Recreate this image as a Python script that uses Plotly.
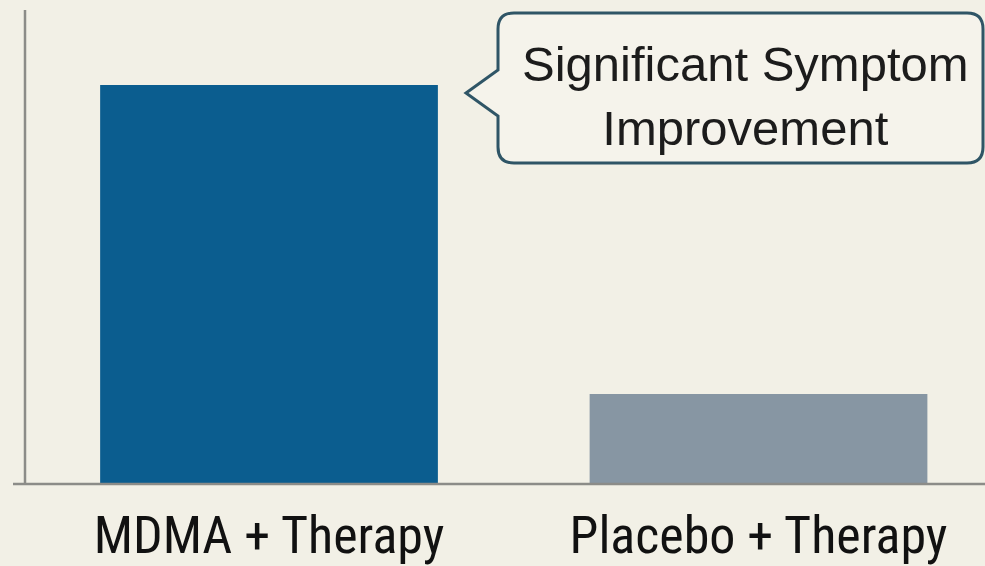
import plotly.graph_objects as go

categories = ["MDMA + Therapy", "Placebo + Therapy"]
values = [84.2, 19.0]
bar_colors = ["#0b5d8f", "#8796a3"]
callout_text = "Significant Symptom<br>Improvement"

W, H = 985, 566
ML, MR, MT, MB = 25, 0, 10, 82
PW, PH = W - ML - MR, H - MT - MB
BG = "#f2f0e6"


def px(x, y):
    """Pixel position -> paper coordinates."""
    return (x - ML) / PW, (H - MB - y) / PH


def callout_path(x0, y0, x1, y1, r, tip, base_top, base_bot):
    pts = []
    def P(cmd, x, y):
        u, v = px(x, y)
        pts.append(f"{cmd}{u:.5f},{v:.5f}")
    P("M", x0 + r, y0)
    P("L", x1 - r, y0)
    P("Q", x1, y0); P(" ", x1, y0 + r)
    P("L", x1, y1 - r)
    P("Q", x1, y1); P(" ", x1 - r, y1)
    P("L", x0 + r, y1)
    P("Q", x0, y1); P(" ", x0, y1 - r)
    P("L", x0, base_bot)
    P("L", tip[0], tip[1])
    P("L", x0, base_top)
    P("L", x0, y0 + r)
    P("Q", x0, y0); P(" ", x0 + r, y0)
    return " ".join(pts) + " Z"


fig = go.Figure(
    go.Bar(
        x=[0, 1],
        y=values,
        width=0.69,
        marker=dict(color=bar_colors, line=dict(width=0)),
        hoverinfo="skip",
    )
)

shapes = [
    # y axis line
    dict(type="line", xref="paper", yref="paper",
         x0=px(25, 0)[0], x1=px(25, 0)[0], y0=px(0, 10)[1], y1=px(0, 484)[1],
         line=dict(color="#8c8c88", width=2.5)),
    # x axis baseline
    dict(type="line", xref="paper", yref="paper",
         x0=px(13, 0)[0], x1=1, y0=px(0, 484)[1], y1=px(0, 484)[1],
         line=dict(color="#8c8c88", width=2.5)),
    # callout bubble
    dict(type="path", xref="paper", yref="paper",
         path=callout_path(498, 13, 983, 163, 16, (466, 93), 70, 116),
         fillcolor="#f5f3eb", line=dict(color="#2f5566", width=3)),
]

cx, cy = px(745, 96)
fig.add_annotation(
    x=cx, y=cy, xref="paper", yref="paper",
    text=callout_text, showarrow=False,
    font=dict(family="Liberation Sans, Arial, sans-serif", size=49, color="#1c1c1c"),
    xanchor="center", yanchor="middle", align="center",
)

fig.update_layout(
    width=W, height=H,
    margin=dict(l=ML, r=MR, t=MT, b=MB, autoexpand=False),
    paper_bgcolor=BG, plot_bgcolor=BG,
    shapes=shapes,
    showlegend=False,
    xaxis=dict(
        range=[-0.4985, 1.4627],
        tickvals=[0, 1], ticktext=categories,
        tickfont=dict(family="Liberation Sans Narrow, Roboto Condensed, sans-serif",
                      size=52, color="#111111"),
        showgrid=False, zeroline=False, showline=False, ticks="",
        ticklabelstandoff=16, automargin=False,
    ),
    yaxis=dict(range=[0, 100], visible=False, automargin=False),
)

fig.write_html("out.html")
